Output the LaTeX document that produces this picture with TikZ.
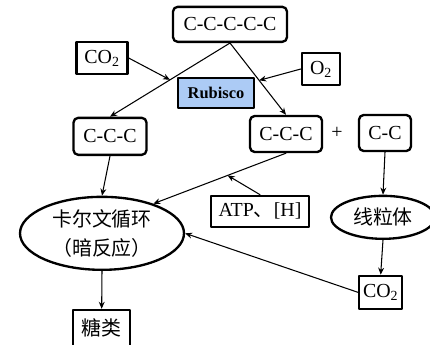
\documentclass[tikz,border=0pt]{standalone}
\usepackage{fontspec}
\setmainfont{Liberation Serif}
\newfontfamily\cjk{Noto Sans CJK SC}
\usetikzlibrary{calc,shapes.geometric,arrows.meta}

\definecolor{rubblue}{RGB}{172,203,245}

\tikzset{
  box/.style={draw,line width=2pt,inner sep=0pt,font=\fontsize{17}{20}\selectfont},
  rbox/.style={box,rounded corners=4pt},
  oval/.style={box,ellipse,align=center},
  flow/.style={line width=0.9pt,-{Stealth[length=6pt,width=5pt]}}
}

\begin{document}
\begin{tikzpicture}[line cap=round,line join=round]
  \useasboundingbox (0,0) rectangle (12.9,10.32);
  % boxes
  \node[rbox,minimum width=3.42cm,minimum height=1.05cm] (top5) at (6.90,9.59) {C-C-C-C-C};
  \node[box,minimum width=1.53cm,minimum height=0.96cm] (co2a) at (3.06,8.58) {CO\textsubscript{2}};
  \node[box,minimum width=1.14cm,minimum height=0.96cm] (o2) at (9.63,8.25) {O\textsubscript{2}};
  \node[box,fill=rubblue,minimum width=2.28cm,minimum height=0.90cm,font=\fontsize{14}{16}\selectfont\bfseries] (rub) at (6.48,7.53) {Rubisco};
  \node[rbox,minimum width=2.19cm,minimum height=1.11cm] (c3a) at (3.30,6.23) {C-C-C};
  \node[rbox,minimum width=2.16cm,minimum height=1.08cm] (c3b) at (8.58,6.30) {C-C-C};
  \node[font=\fontsize{17}{20}\selectfont] (plus) at (10.11,6.33) {+};
  \node[rbox,minimum width=1.56cm,minimum height=1.08cm] (c2) at (11.55,6.33) {C-C};
  \node[oval,minimum width=4.92cm,minimum height=2.19cm,font=\fontsize{17}{24.7}\selectfont\cjk] (calvin) at (3.06,3.32) {卡尔文循环\\（暗反应）};
  \node[box,minimum width=2.94cm,minimum height=0.93cm] (atp) at (7.80,3.98) {ATP{\cjk 、}[H]};
  \node[oval,minimum width=3.12cm,minimum height=1.29cm,font=\fontsize{17}{20}\selectfont\cjk] (mito) at (11.49,3.80) {线粒体};
  \node[box,minimum width=1.29cm,minimum height=0.99cm] (co2b) at (11.42,1.55) {CO\textsubscript{2}};
  \node[box,minimum width=1.71cm,minimum height=1.08cm,font=\fontsize{17}{20}\selectfont\cjk] (sugar) at (3.05,0.48) {糖类};

  % points on the lines
  \coordinate (j1) at ($(top5.south)!0.5!(c3a.north)$);
  \coordinate (j2) at ($(top5.south)!0.52!(c3b.north)$);
  \coordinate (j3) at ($(c3b.south)!0.44!(calvin.30)$);

  % arrows
  \draw[flow] (top5.south) -- (c3a.north);
  \draw[flow] (top5.south) -- (c3b.north);
  \draw[flow] (co2a.east) -- (j1);
  \draw[flow] (o2.west) -- (j2);
  \draw[flow] (c3a.south) -- (calvin.north);
  \draw[flow] (c3b.south) -- (calvin.30);
  \draw[flow] (atp.north) -- (j3);
  \draw[flow] (c2.south) -- (mito.north);
  \draw[flow] (mito.south) -- (co2b.north);
  \draw[flow] (co2b.west) -- (calvin.east);
  \draw[flow] (calvin.south) -- (sugar.north);
\end{tikzpicture}
\end{document}
